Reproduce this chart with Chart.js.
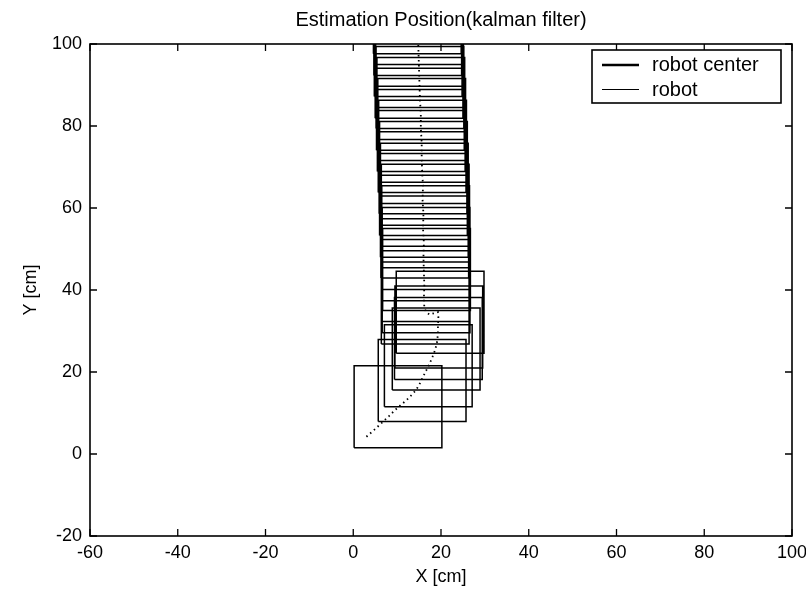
<!DOCTYPE html>
<html lang="en">
<head>
<meta charset="UTF-8">
<title>Estimation Position(kalman filter)</title>
<script src="https://cdn.jsdelivr.net/npm/chart.js"></script>
<style>
  html, body { margin: 0; padding: 0; background: #fff; }
  #wrap { width: 806px; height: 591px; }
</style>
</head>
<body>
<div id="wrap"><canvas id="posChart" width="806" height="591"></canvas></div>
<script>
// tick labels
const xTicks = [-60, -40, -20, 0, 20, 40, 60, 80, 100];
const yTicks = [-20, 0, 20, 40, 60, 80, 100];

// estimated robot center path (kalman filter)
const centerX = [3.0, 5.0, 6.8, 8.2, 9.5, 10.9, 12.2, 13.3, 14.3, 15.1, 15.8, 16.6, 17.4, 18.1, 18.7, 19.1, 19.3, 19.3, 19.4, 19.3, 18.3, 17.4, 16.6, 16.2, 16.1, 16.2, 16.1, 16.0, 16.1, 15.9, 16.0, 15.8, 15.9, 15.7, 15.6, 15.6, 15.4, 15.4, 15.2, 15.1, 15.0, 14.9, 14.8];
const centerY = [4.2, 6.1, 7.9, 9.3, 10.7, 12.0, 13.2, 14.4, 15.6, 17.0, 18.6, 20.3, 22.0, 23.8, 25.5, 27.3, 29.3, 31.4, 33.3, 34.6, 34.3, 34.0, 34.6, 35.8, 38.0, 41.0, 44.5, 48.0, 51.5, 55.0, 58.5, 62.0, 65.5, 69.0, 72.5, 76.0, 79.5, 83.0, 86.5, 90.0, 93.5, 97.0, 100.5];

// robot footprint at each step: lower-left corner, side length
const robotSide = 20;
const boxLeft = [0.2, 5.7, 7.1, 8.9, 9.4, 9.5, 9.8,
  6.4, 6.6, 6.5, 6.7, 6.4, 6.6, 6.3, 6.5, 6.2, 6.4, 6.0, 6.2, 5.9, 6.0,
  5.7, 5.8, 5.5, 5.6, 5.3, 5.4, 5.2, 5.0, 5.1, 4.8, 4.9, 4.7, 4.8, 4.6];
const boxBottom = [1.5, 7.9, 11.5, 15.6, 18.2, 21.0, 24.6,
  26.8, 29.6, 32.3, 35.0, 37.4, 40.1, 42.9, 45.4, 48.0, 50.7, 53.3, 55.8, 58.6, 61.1,
  63.8, 66.3, 68.9, 71.6, 74.1, 76.7, 79.4, 81.9, 84.5, 87.2, 89.7, 92.3, 95.0, 97.6];

const FONT = 'Liberation Sans, Arial, sans-serif';

const centerPts = centerX.map((x, i) => ({ x: x, y: centerY[i] }));

// each square as a closed outline, separated by a gap point
const robotPts = [];
boxLeft.forEach((l, i) => {
  const b = boxBottom[i];
  robotPts.push(
    { x: l, y: b },
    { x: l + robotSide, y: b },
    { x: l + robotSide, y: b + robotSide },
    { x: l, y: b + robotSide },
    { x: l, y: b },
    { x: l, y: null }
  );
});

// box frame with inward tick marks on all four sides
const framePlugin = {
  id: 'frame',
  afterDatasetsDraw(chart) {
    const { ctx, chartArea: a, scales } = chart;
    ctx.save();
    ctx.strokeStyle = '#000';
    ctx.lineWidth = 1.6;
    ctx.strokeRect(a.left, a.top, a.right - a.left, a.bottom - a.top);
    ctx.lineWidth = 1.3;
    ctx.beginPath();
    xTicks.forEach(v => {
      const px = scales.x.getPixelForValue(v);
      ctx.moveTo(px, a.bottom); ctx.lineTo(px, a.bottom - 7);
      ctx.moveTo(px, a.top); ctx.lineTo(px, a.top + 7);
    });
    yTicks.forEach(v => {
      const py = scales.y.getPixelForValue(v);
      ctx.moveTo(a.left, py); ctx.lineTo(a.left + 7, py);
      ctx.moveTo(a.right, py); ctx.lineTo(a.right - 7, py);
    });
    ctx.stroke();
    ctx.restore();
  }
};

// matlab style legend in the upper right corner
const legendPlugin = {
  id: 'boxLegend',
  afterDraw(chart) {
    const { ctx, chartArea: a } = chart;
    const w = 189, h = 53;
    const x0 = a.right - 11 - w, y0 = a.top + 6;
    ctx.save();
    ctx.fillStyle = '#fff';
    ctx.fillRect(x0, y0, w, h);
    ctx.strokeStyle = '#000';
    ctx.lineWidth = 1.6;
    ctx.strokeRect(x0, y0, w, h);
    const rows = [
      { label: 'robot center', width: 2.5, y: y0 + 15 },
      { label: 'robot', width: 1.2, y: y0 + 39.5 }
    ];
    ctx.font = '20px ' + FONT;
    ctx.textBaseline = 'middle';
    ctx.fillStyle = '#000';
    rows.forEach(r => {
      ctx.lineWidth = r.width;
      ctx.beginPath();
      ctx.moveTo(x0 + 10, r.y);
      ctx.lineTo(x0 + 47, r.y);
      ctx.stroke();
      ctx.fillText(r.label, x0 + 60, Math.round(r.y));
    });
    ctx.restore();
  }
};

new Chart(document.getElementById('posChart'), {
  type: 'line',
  data: {
    datasets: [
      {
        label: 'robot center',
        data: centerPts,
        borderColor: '#000',
        borderWidth: 1.8,
        borderDash: [1.5, 3.5],
        pointRadius: 0,
        tension: 0
      },
      {
        label: 'robot',
        data: robotPts,
        borderColor: '#000',
        borderWidth: 1.5,
        pointRadius: 0,
        spanGaps: false,
        tension: 0
      }
    ]
  },
  options: {
    responsive: false,
    animation: false,
    events: [],
    layout: { padding: { left: 0, right: 14, top: 0, bottom: 0 } },
    plugins: {
      legend: { display: false },
      tooltip: { enabled: false },
      title: {
        display: true,
        fullSize: false,
        text: 'Estimation Position(kalman filter)',
        color: '#000',
        font: { family: FONT, size: 20, weight: 'normal' },
        padding: { top: 8, bottom: 12 }
      }
    },
    scales: {
      x: {
        type: 'linear',
        min: -60,
        max: 100,
        afterBuildTicks: s => { s.ticks = xTicks.map(v => ({ value: v })); },
        afterFit: s => { s.height = 55; s.paddingLeft = 0; s.paddingRight = 0; },
        grid: { display: false, drawTicks: false },
        border: { display: false },
        ticks: { color: '#000', font: { family: FONT, size: 18 }, padding: 6, maxRotation: 0, autoSkip: false },
        title: { display: true, text: 'X [cm]', color: '#000', font: { family: FONT, size: 18 }, padding: { top: 0, bottom: 3 } }
      },
      y: {
        type: 'linear',
        min: -20,
        max: 100,
        afterBuildTicks: s => { s.ticks = yTicks.map(v => ({ value: v })); },
        afterFit: s => { s.width = 90; },
        grid: { display: false, drawTicks: false },
        border: { display: false },
        ticks: { color: '#000', font: { family: FONT, size: 18 }, padding: 8, autoSkip: false },
        title: { display: true, text: 'Y [cm]', color: '#000', font: { family: FONT, size: 18 }, padding: { top: 20, bottom: 0 } }
      }
    }
  },
  plugins: [framePlugin, legendPlugin]
});
</script>
</body>
</html>
